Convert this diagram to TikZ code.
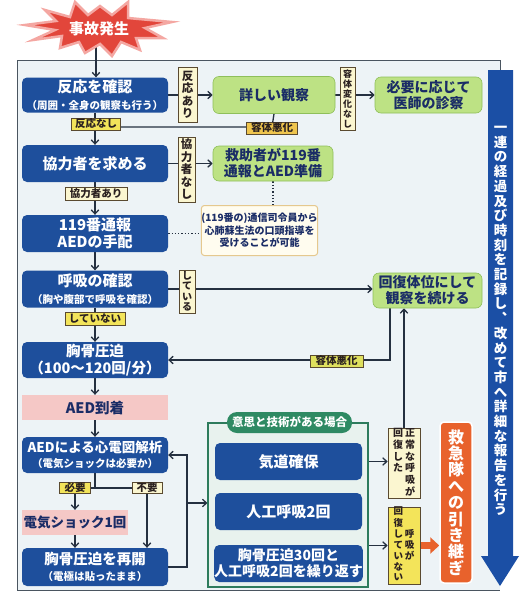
\documentclass[tikz,border=0pt]{standalone}
\usepackage{fontspec}
\setmainfont{Noto Sans CJK JP}
\usetikzlibrary{arrows.meta}
\newcommand\fs[2]{\fontsize{#1}{#2}\selectfont}
\definecolor{boxblue}{HTML}{1E4F9C}
\definecolor{boxgreen}{HTML}{BDE284}
\definecolor{gborder}{HTML}{8FBF5A}
\definecolor{navy}{HTML}{1A2C66}
\definecolor{pinkc}{HTML}{F5C8C6}
\definecolor{cream}{HTML}{FBF6D0}
\definecolor{yel}{HTML}{F3E45A}
\definecolor{yelor}{HTML}{EFC54E}
\definecolor{yelgr}{HTML}{DFE05E}
\definecolor{labb}{HTML}{5A4A30}
\definecolor{labt}{HTML}{2A2020}
\definecolor{linec}{HTML}{253040}
\definecolor{framec}{HTML}{4A5560}
\definecolor{bgc}{HTML}{EDF3F6}
\definecolor{notef}{HTML}{FFFCEF}
\definecolor{noteb}{HTML}{E5C88E}
\definecolor{grpb}{HTML}{2D7B5C}
\definecolor{grpf}{HTML}{E8F2EE}
\definecolor{pillc}{HTML}{2E8A63}
\definecolor{orangec}{HTML}{E8622C}
\definecolor{arrblue}{HTML}{1B4FA5}
\definecolor{starred}{HTML}{E2463B}
\definecolor{starglow}{HTML}{F4A7A2}
\pgfdeclarelayer{bg}
\pgfdeclarelayer{lines}
\pgfsetlayers{bg,lines,main}
\tikzset{
  conn/.style={draw=linec, line width=1.3pt},
  arr/.style={conn, -{Straight Barb[length=4pt,width=7.5pt]}},
  bbox/.style={fill=boxblue, rounded corners=5pt, text=white, align=center, inner sep=0pt, font=\bfseries\fs{15}{16.5}},
  gbox/.style={fill=boxgreen, draw=gborder, line width=0.6pt, rounded corners=6pt, text=navy, align=center, inner sep=0pt, font=\bfseries\fs{14}{16}},
  pbox/.style={fill=pinkc, text=navy, align=center, inner sep=0pt, font=\bfseries\fs{14.5}{16}},
  lab/.style={draw=labb, line width=0.7pt, fill=cream, inner sep=0pt, align=center, text=labt, font=\bfseries\fs{10.5}{11.5}},
  ylab/.style={lab, fill=yel},
  wh/.style={minimum width=#1},
  ht/.style={minimum height=#1}
}
\begin{document}
\begin{tikzpicture}[x=1pt,y=-1pt]
\useasboundingbox (0,0) rectangle (521,595);
\begin{pgfonlayer}{bg}
\fill[bgc] (17,60) rectangle (500,590);
\draw[framec, line width=0.8pt] (500,70) -- (500,60) -- (17,60) -- (17,590) -- (500,590);
\end{pgfonlayer}

% main column
\node[bbox, wh=146, ht=35] (b1) at (95,95) {反応を確認\\\fs{10.5}{12}（周囲・全身の観察も行う）};
\node[bbox, wh=146, ht=37] (b2) at (95,163.5) {協力者を求める};
\node[bbox, wh=146, ht=37] (b3) at (95,233.5) {119番通報\\AEDの手配};
\node[bbox, wh=146, ht=37] (b4) at (95,289) {呼吸の確認\\\fs{10.5}{12}（胸や腹部で呼吸を確認）};
\node[bbox, wh=146, ht=36, font=\bfseries\fs{14.5}{16.5}] (b5) at (95,360) {胸骨圧迫\\（100～120回/分）};
\node[pbox, wh=146, ht=25] (p1) at (95,407.5) {AED到着};
\node[bbox, wh=146, ht=36, font=\bfseries\fs{13.5}{15.5}] (b6) at (95,455) {AEDによる心電図解析\\\fs{10.5}{12}（電気ショックは必要か）};
\node[pbox, wh=106, ht=25, font=\bfseries\fs{13.5}{15}] (p2) at (75,522.5) {電気ショック1回};
\node[bbox, wh=146, ht=38, font=\bfseries\fs{14.5}{16.5}] (b7) at (95,567) {胸骨圧迫を再開\\\fs{10.5}{12}（電極は貼ったまま）};

% green boxes
\node[gbox, wh=122, ht=37] (g1) at (274,95) {詳しい観察};
\node[gbox, wh=107, ht=36] (g2) at (428.5,95) {必要に応じて\\医師の診察};
\node[gbox, wh=120, ht=35] (g3) at (273,163.5) {救助者が119番\\通報とAED準備};
\node[gbox, wh=109, ht=35] (g4) at (427.5,290.5) {回復体位にして\\観察を続ける};

% note
\node[fill=notef, draw=noteb, line width=1pt, rounded corners=3pt, wh=115, ht=50, inner sep=0pt, align=center, text=navy, font=\bfseries\fs{10}{12.5}] (note) at (259.5,230.5) {(119番の)通信司令員から\\心肺蘇生法の口頭指導を\\受けることが可能};

% labels
\node[lab, wh=19, ht=55, font=\bfseries\fs{11.5}{12.5}] (l1) at (187.5,95) {反\\応\\あ\\り};
\node[lab, wh=15, ht=63, font=\bfseries\fs{9}{10}] (l2) at (347.5,98.5) {容\\体\\変\\化\\な\\し};
\node[lab, wh=17, ht=65, font=\bfseries\fs{11.5}{12.5}] (l3) at (186.5,169.5) {協\\力\\者\\な\\し};
\node[lab, wh=16, ht=43, font=\bfseries\fs{10}{10.5}] (l4) at (187,291.5) {し\\て\\い\\る};
\node[ylab, wh=49, ht=12] (h1) at (96,124) {反応なし};
\node[lab, fill=yelor, wh=51, ht=12] (h2) at (272,128) {容体悪化};
\node[lab, wh=62, ht=13] (h3) at (96,194) {協力者あり};
\node[ylab, wh=60, ht=13] (h4) at (95,318.5) {していない};
\node[lab, fill=yelgr, wh=53, ht=12] (h5) at (336.5,361) {容体悪化};
\node[ylab, wh=31, ht=11] (h6) at (75,488) {必要};
\node[lab, wh=30, ht=11] (h7) at (147,488) {不要};

% group
\node[draw=grpb, fill=grpf, line width=1.2pt, wh=160, ht=164, inner sep=0pt] (grp) at (288,505) {};
\node[fill=pillc, rounded corners=10pt, wh=125, ht=21, inner sep=0pt, text=white, font=\bfseries\fs{11.5}{13}] (pill) at (289.5,422.5) {意思と技術がある場合};
\node[bbox, wh=147, ht=37] (k1) at (288.5,461.5) {気道確保};
\node[bbox, wh=147, ht=37] (k2) at (288.5,511.5) {人工呼吸2回};
\node[bbox, wh=147, ht=37, font=\bfseries\fs{14}{16}] (k3) at (288.5,563.5) {胸骨圧迫30回と\\人工呼吸2回を繰り返す};

\node[lab, wh=32, ht=67, font=\bfseries\fs{10}{10.8}] (l5) at (404,463.5) {\begin{tabular}{@{}c@{\hspace{2pt}}c@{}}回&正\\復&常\\し&な\\た&呼\\&吸\\&が\end{tabular}};
\node[ylab, wh=32, ht=75, font=\bfseries\fs{9.5}{10.4}] (l6) at (404,545.5) {\begin{tabular}{@{}c@{\hspace{2pt}}c@{}}回&\\復&\\し&呼\\て&吸\\い&が\\な&\\い&\end{tabular}};

\node[fill=orangec, draw=white, line width=1.5pt, rounded corners=4pt, wh=32, ht=161, inner sep=0pt, align=center, text=white, font=\bfseries\fs{16}{16.4}] (ob) at (456,502.5) {救\\急\\隊\\へ\\の\\引\\き\\継\\ぎ};

\coordinate (st) at (96,46);
\coordinate (j1) at (272,127);
\coordinate (j2) at (95,488);
\coordinate (c2) at (390,360);
\coordinate (c3) at (187,455);
\coordinate (c4) at (187,503);

\begin{pgfonlayer}{lines}
\draw[arr] (st) -- (st |- b1.north);
\draw[arr] (b1.east) -- (g1.west);
\draw[arr] (g1.east) -- (g2.west);
\draw[arr] (b1.south) -- (b2.north);
\draw[conn] (g1.south) -- (j1) -- (j1 -| h1.east);
\draw[arr] (b2.east) -- (g3.west);
\draw[arr] (b2.south) -- (b3.north);
\draw[linec, line width=1.3pt, dotted] (b3.east) -- (b3.east -| note.west);
\draw[linec, line width=1.3pt, dotted] (g3.south) -- (g3.south |- note.north);
\draw[arr] (b3.south) -- (b4.north);
\draw[arr] (b4.east) -- (b4.east -| g4.west);
\draw[arr] (b4.south) -- (b5.north);
\draw[arr] (c2 |- g4.south) -- (c2) -- (b5.east);
\draw[arr] (b5.south) -- (p1.north);
\draw[arr] (p1.south) -- (b6.north);
\draw[conn] (b6.south) -- (j2);
\draw[conn] (h6.east) -- (h7.west);
\draw[arr] (h6.south) -- (h6.south |- p2.north);
\draw[arr] (h7.south) -- (h7.south |- b7.north);
\draw[arr] (p2.south) -- (p2.south |- b7.north);
\draw[arr] (b7.east) -- (b7.east -| c3) -- (c3) -- (b6.east);
\draw[arr] (c4) -- (c4 -| grp.west);
\draw[arr] (k1.south) -- (k2.north);
\draw[arr] (k2.south) -- (k3.north);
\draw[arr] (k1.east -| grp.east) -- (k1.east -| l5.west);
\draw[arr] (l6.west -| grp.east) -- (l6.west);
\draw[arr] (l5.north) -- (l5.north |- g4.south);
\draw[draw=orangec, line width=7pt, -{Triangle[length=9pt,width=16pt]}] (l6.east) -- (l6.east -| ob.west);
\end{pgfonlayer}

% star shape
\draw[fill=starred, draw=starglow, line width=2.5pt, line join=miter]
 (128,2) -- (128,18) -- (172,22) -- (145,28) -- (163,38) -- (136,38) -- (140,50) -- (121,42) -- (112,56) -- (100,44) -- (85,53) -- (79,42) -- (60,48) -- (62,36) -- (33,40) -- (55,30) -- (25,25) -- (56,21) -- (45,10) -- (70,17) -- (75,2) -- (88,15) -- (100,6) -- (112,15) -- cycle;
\node[text=white, font=\bfseries\fs{15}{16}] (stt) at (99,29) {事故発生};

% blue record arrow
\fill[arrblue] (488,70) -- (513,70) -- (513,556) -- (519,556) -- (500,586) -- (481,556) -- (488,556) -- cycle;
\node[text=white, align=center, inner sep=0pt, font=\bfseries\fs{13.5}{14.7}] (rec) at (500.5,321) {一\\連\\の\\経\\過\\及\\び\\時\\刻\\を\\記\\録\\し\\︑\\改\\め\\て\\市\\へ\\詳\\細\\な\\報\\告\\を\\行\\う};
\end{tikzpicture}
\end{document}
